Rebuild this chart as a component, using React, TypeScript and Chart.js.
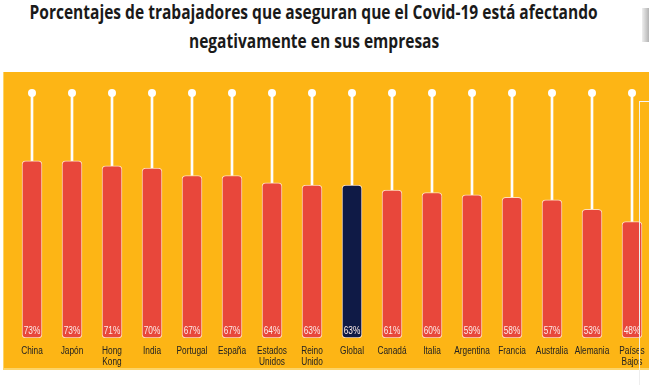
import React, { useEffect, useRef } from 'react';
import { Chart, registerables } from 'chart.js';
Chart.register(...registerables);

const titleLines = [
  'Porcentajes de trabajadores que aseguran que el Covid-19 está afectando',
  'negativamente en sus empresas',
];
const categories: string[][] = [
  ['China'], ['Japón'], ['Hong', 'Kong'], ['India'], ['Portugal'], ['España'],
  ['Estados', 'Unidos'], ['Reino', 'Unido'], ['Global'], ['Canadá'], ['Italia'],
  ['Argentina'], ['Francia'], ['Australia'], ['Alemania'], ['Países', 'Bajos'],
];
const values = [73, 73, 71, 70, 67, 67, 64, 63, 63, 61, 60, 59, 58, 57, 53, 48];
const highlighted = 'Global';
const capValue = 101;

const RED = '#E8473B';
const NAVY = '#0F1A46';
const ORANGE = '#FDB515';
const FONT = "'Liberation Sans', Arial, sans-serif";
const SQUEEZE = 0.83;

export default function App() {
  const canvasRef = useRef<HTMLCanvasElement | null>(null);
  const l1 = useRef<HTMLSpanElement | null>(null);
  const l2 = useRef<HTMLSpanElement | null>(null);

  useEffect(() => {
    if (l1.current && l2.current) {
      const w = l1.current.offsetWidth;
      const s = 568 / w;
      l1.current.style.transform = `scaleX(${s})`;
      l2.current.style.transform = `scaleX(${s})`;
    }
    const canvas = canvasRef.current!;
    const labelPlugin = {
      id: 'textLabels',
      afterDatasetsDraw(chart: any) {
        const meta = chart.getDatasetMeta(1);
        const y0 = chart.scales.y.getPixelForValue(0);
        const ctx = chart.ctx;
        ctx.save();
        ctx.textAlign = 'center';
        ctx.textBaseline = 'middle';
        meta.data.forEach((el: any, i: number) => {
          // percentage inside the bar
          ctx.save();
          ctx.font = `10px ${FONT}`;
          ctx.fillStyle = '#FCEDEA';
          ctx.translate(el.x, y0 - 6.5);
          ctx.scale(SQUEEZE, 1);
          ctx.fillText(values[i] + '%', 0, 0);
          ctx.restore();
          // category label
          const xLabel = chart.scales.x.getPixelForTick(i);
          categories[i].forEach((line, j) => {
            ctx.save();
            ctx.font = `10px ${FONT}`;
            ctx.fillStyle = '#222222';
            ctx.translate(xLabel, y0 + 13.5 + j * 10.5);
            ctx.scale(SQUEEZE, 1);
            ctx.fillText(line, 0, 0);
            ctx.restore();
          });
        });
        ctx.restore();
      },
    };
    const chart = new Chart(canvas, {
      type: 'bar',
      data: {
        labels: categories.map((c) => c.join(' ')),
        datasets: [
          {
            type: 'line',
            data: categories.map(() => capValue),
            showLine: false,
            pointRadius: 4,
            pointHoverRadius: 4,
            pointBackgroundColor: '#ffffff',
            pointBorderWidth: 0,
            clip: false as any,
            order: 1,
          } as any,
          {
            type: 'bar',
            data: values,
            backgroundColor: categories.map((c) => (c.join(' ') === highlighted ? NAVY : RED)),
            borderColor: 'rgba(255,225,195,0.95)',
            borderWidth: 1,
            borderRadius: 4,
            borderSkipped: false,
            barThickness: 20,
            grouped: false,
            order: 2,
          } as any,
          {
            type: 'bar',
            data: values.map((v) => [v, capValue]),
            backgroundColor: '#ffffff',
            barThickness: 2,
            grouped: false,
            order: 3,
          } as any,
        ],
      },
      options: {
        responsive: false,
        animation: false,
        devicePixelRatio: 1,
        layout: { padding: { left: 9, right: 11, top: 21, bottom: 32 } },
        plugins: { legend: { display: false }, tooltip: { enabled: false }, title: { display: false } },
        scales: {
          x: {
            grid: { display: false, drawTicks: false },
            border: { display: false },
            ticks: { display: false },
          },
          y: { display: false, min: 0, max: capValue },
        },
      },
      plugins: [labelPlugin],
    } as any);
    return () => chart.destroy();
  }, []);

  const titleStyle: React.CSSProperties = {
    position: 'absolute', left: 314 - 1000, width: 2000, textAlign: 'center',
    fontFamily: "'Open Sans', sans-serif", fontWeight: 700, fontSize: 19.5, lineHeight: '27px', color: '#1a1a1a',
    whiteSpace: 'nowrap',
  };

  return (
    <div style={{ position: 'absolute', left: 0, top: 0, width: 649, height: 385, overflow: 'hidden', background: '#fff' }}>
      <div style={{ position: 'absolute', left: 0, top: 0, width: 649, height: 385, overflow: 'hidden' }}>
        <div style={{ ...titleStyle, top: -2 }}>
          <span ref={l1} style={{ display: 'inline-block', transformOrigin: 'center' }}>{titleLines[0]}</span>
        </div>
        <div style={{ ...titleStyle, top: 27 }}>
          <span ref={l2} style={{ display: 'inline-block', transformOrigin: 'center' }}>{titleLines[1]}</span>
        </div>
      </div>
      <div
        style={{
          position: 'absolute', left: 3, top: 72, width: 660, height: 298, background: ORANGE,
          boxShadow: 'inset 1px -2px 0 #FCD468',
        }}
      >
        <canvas ref={canvasRef} width={660} height={298} />
      </div>
      <div style={{ position: 'absolute', left: 639, top: 101, width: 20, height: 290, borderLeft: '1px solid #eeeeee', borderTop: '1px solid #f5f5f5' }} />
      <div style={{ position: 'absolute', left: 642, top: 8, width: 10, height: 34, background: 'linear-gradient(90deg,#eeeeee,#9a9a9a)' }} />
    </div>
  );
}
